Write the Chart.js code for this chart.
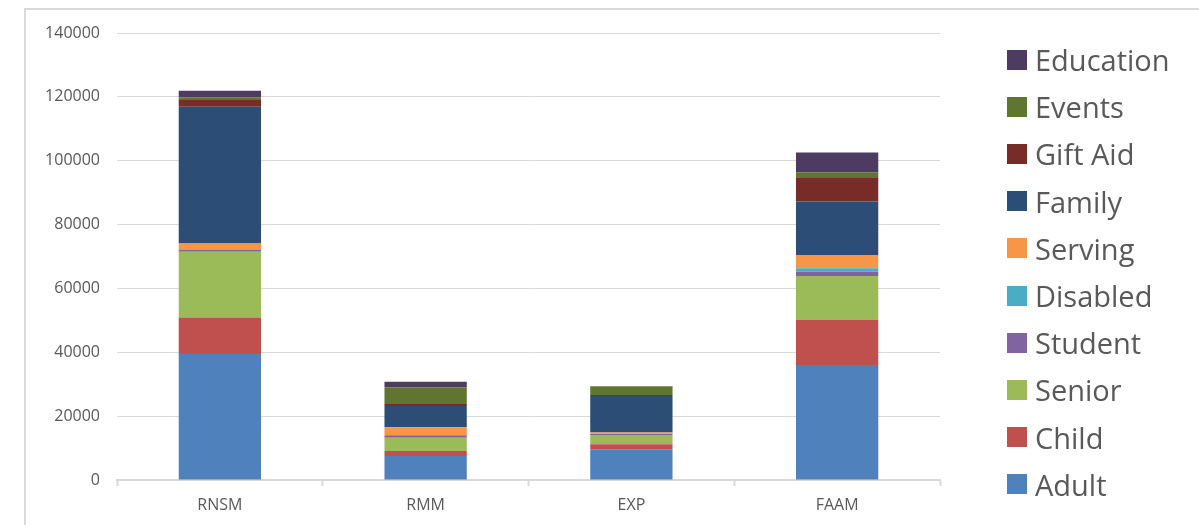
<!DOCTYPE html>
<html>
<head>
<meta charset="utf-8">
<script src="https://cdn.jsdelivr.net/npm/chart.js@4/dist/chart.umd.min.js"></script>
<style>
  html, body { margin: 0; padding: 0; background: #fff; overflow: hidden; }
  #frame {
    position: absolute; left: 24px; top: 8px; width: 1300px; height: 700px;
    border: 2px solid #d9d9d9; box-sizing: border-box;
  }
  #wrap { position: absolute; left: 0; top: 0; width: 1199px; height: 525px; }
  #legend {
    position: absolute; left: 1007px; top: 36px; margin: 0; padding: 0; list-style: none;
    font-family: "Open Sans", Lato, sans-serif; font-size: 29px; color: #595959;
  }
  #legend li { display: flex; align-items: center; height: 47.2px; }
  #legend span.box { display: inline-block; width: 20px; height: 20px; margin-right: 8px; }
</style>
</head>
<body>
<div id="frame"></div>
<div id="wrap"><canvas id="chart" width="1199" height="525"></canvas></div>
<ul id="legend"></ul>
<script>
const categories = ["RNSM", "RMM", "EXP", "FAAM"];

const seriesNames = ["Adult", "Child", "Senior", "Student", "Disabled", "Serving", "Family", "Gift Aid", "Events", "Education"];
const seriesColors = ["#4f81bd", "#c0504d", "#9bbb59", "#8064a2", "#4bacc6", "#f79646", "#2c4d75", "#772c2a", "#5f7530", "#4d3b62"];

const adult = [39500, 7500, 9600, 36000];
const child = [11400, 1600, 1600, 14100];
const senior = [20600, 4100, 2900, 13800];
const student = [500, 600, 300, 1300];
const disabled = [300, 300, 200, 1100];
const serving = [1800, 2400, 300, 4200];
const family = [42800, 6700, 11400, 16700];
const giftAid = [2100, 600, 300, 7600];
const events = [900, 5200, 2800, 1600];
const education = [2000, 1800, 0, 6200];

const seriesValues = [adult, child, senior, student, disabled, serving, family, giftAid, events, education];

const yTicks = [0, 20000, 40000, 60000, 80000, 100000, 120000, 140000];

const tickFont = { family: "'Open Sans', Lato, sans-serif", size: 16 };
const gridColor = "#d9d9d9";

const datasets = seriesNames.map((name, i) => ({
  label: name,
  data: seriesValues[i],
  backgroundColor: seriesColors[i],
  borderWidth: 0,
  categoryPercentage: 1,
  barPercentage: 0.4,
}));

const chart = new Chart(document.getElementById("chart"), {
  type: "bar",
  data: { labels: categories, datasets },
  options: {
    responsive: false,
    animation: false,
    layout: { padding: { left: 0, right: 259, top: 33, bottom: 0 } },
    plugins: {
      legend: { display: false },
      tooltip: { enabled: false },
    },
    scales: {
      x: {
        stacked: true,
        grid: { drawOnChartArea: false, drawTicks: true, tickLength: 6, tickColor: gridColor, tickWidth: 2 },
        border: { color: gridColor, width: 2 },
        ticks: { color: "#595959", font: tickFont, padding: 10 },
        afterFit: (scale) => { scale.height = 45; },
      },
      y: {
        stacked: true,
        min: 0,
        max: 140000,
        afterBuildTicks: (scale) => { scale.ticks = yTicks.map((v) => ({ value: v })); },
        grid: { color: gridColor, lineWidth: 1, drawTicks: false },
        border: { display: false },
        ticks: { color: "#595959", font: tickFont, padding: 17, callback: (v) => String(v) },
        afterFit: (scale) => { scale.width = 117; },
      },
    },
  },
});

// legend, top item is the last series
const legendEl = document.getElementById("legend");
chart.data.datasets.slice().reverse().forEach((ds) => {
  const li = document.createElement("li");
  const box = document.createElement("span");
  box.className = "box";
  box.style.background = ds.backgroundColor;
  li.appendChild(box);
  li.appendChild(document.createTextNode(ds.label));
  legendEl.appendChild(li);
});
</script>
</body>
</html>
